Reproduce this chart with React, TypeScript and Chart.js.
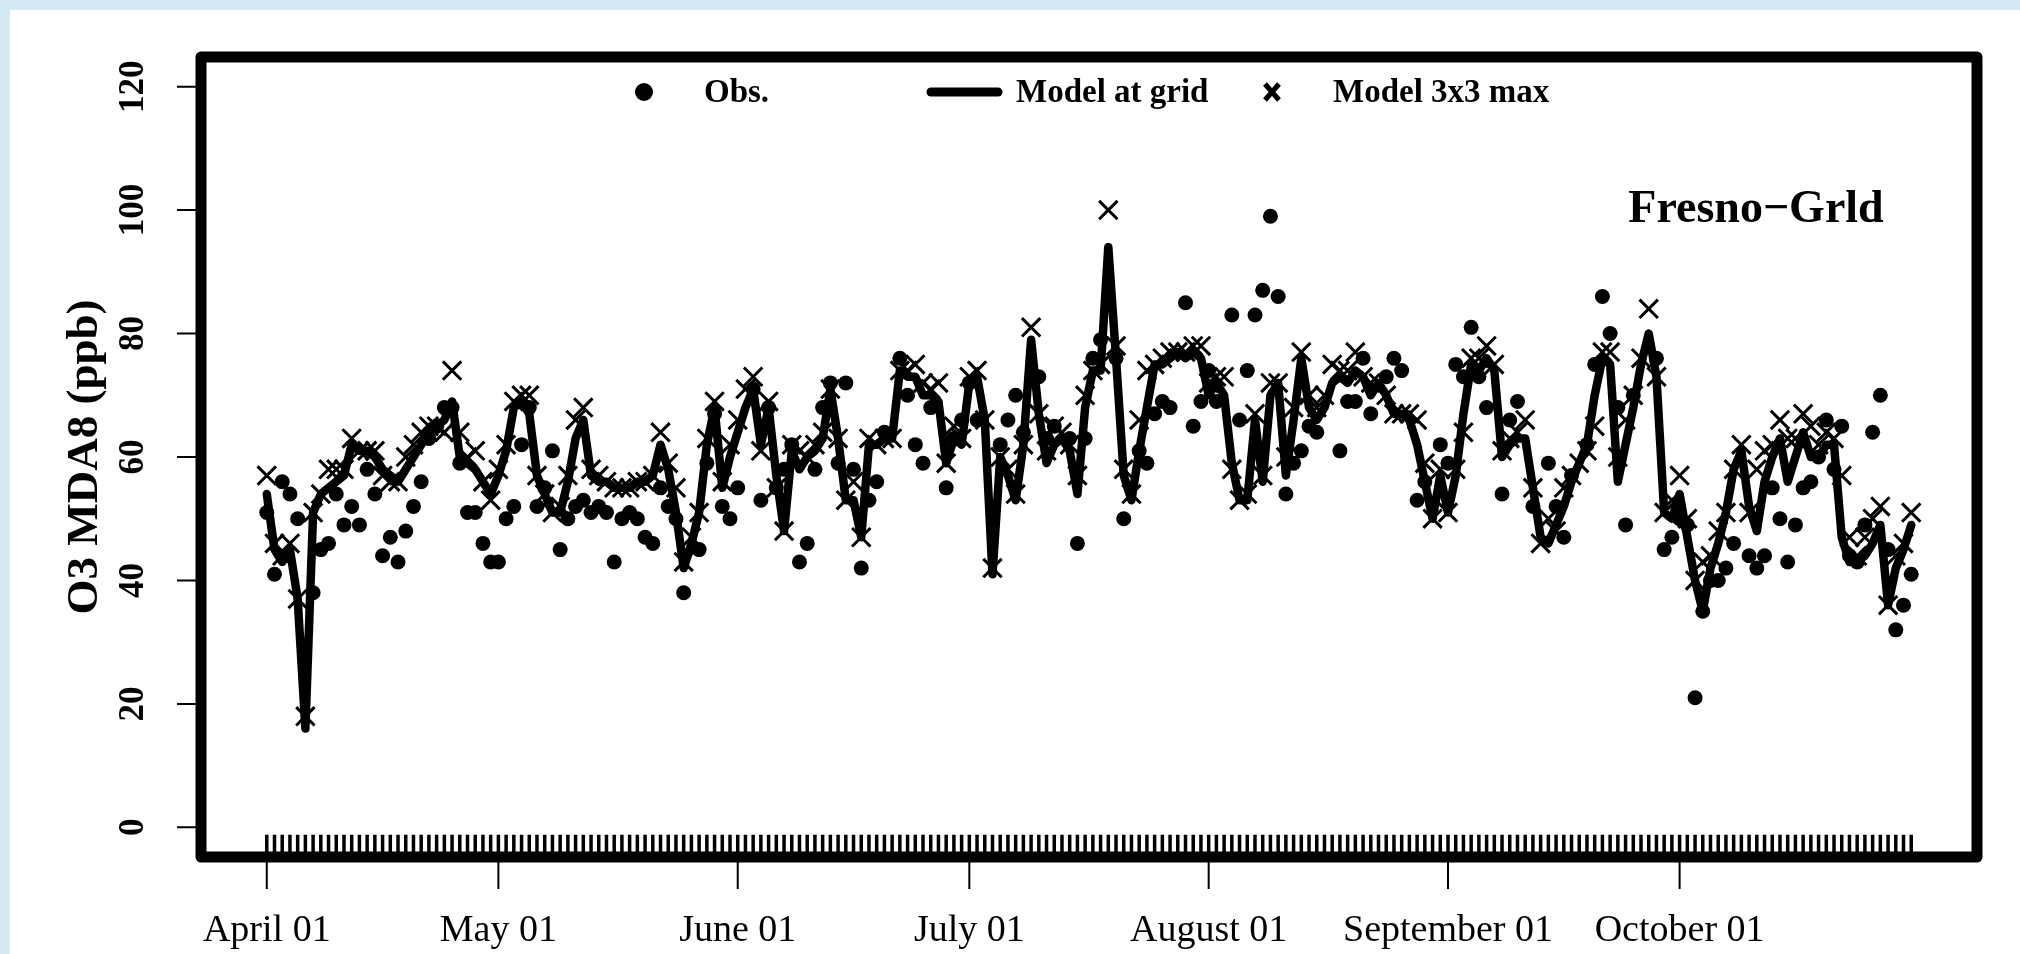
import React, { useEffect, useRef } from "react";
import { Chart, registerables } from "chart.js";

Chart.register(...registerables);

// ---- data (day index 0 = April 01) ----
const monthTickDays = [0, 30, 61, 91, 122, 153, 183];
const monthTickLabels = ["April 01", "May 01", "June 01", "July 01", "August 01", "September 01", "October 01"];
const yTickValues = [0, 20, 40, 60, 80, 100, 120];

const modelAtGrid = [
  54, 45, 43, 45, 37, 16, 51, 54, 55, 56, 57, 62, 61, 61, 60, 58, 57, 56, 58, 60,
  62, 64, 65, 66, 69, 60, 59, 58, 56, 54, 57, 61, 68, 69, 67, 57, 54, 51, 51, 56,
  63, 66, 57, 56, 56, 55, 55, 55, 56, 56, 57, 62, 58, 51, 42, 46, 51, 62, 68, 55,
  60, 64, 68, 71, 62, 68, 57, 48, 61, 58, 60, 61, 63, 71, 63, 53, 53, 47, 62, 62,
  63, 63, 74, 73, 73, 70, 70, 69, 59, 63, 62, 72, 73, 66, 41, 60, 57, 53, 62, 79,
  67, 59, 62, 63, 61, 54, 68, 74, 74, 94, 76, 57, 53, 61, 68, 75, 75, 76, 77, 76,
  77, 76, 70, 72, 70, 59, 53, 53, 66, 56, 70, 72, 57, 66, 76, 68, 66, 68, 72, 73,
  72, 74, 73, 70, 72, 70, 67, 67, 66, 62, 56, 50, 57, 51, 57, 67, 75, 74, 76, 74,
  60, 62, 63, 63, 55, 47, 46, 49, 52, 56, 59, 62, 70, 76, 75, 56, 62, 68, 75, 80,
  73, 51, 50, 54, 47, 40, 35, 42, 46, 51, 58, 61, 52, 48, 56, 60, 63, 56, 60, 64,
  60, 60, 62, 62, 47, 43, 43, 44, 46, 49, 36, 42, 45, 49,
];

const model3x3Max = [
  57, 46, 44, 46, 37, 18, 51, 54, 58, 58, 58, 63, 61, 61, 61, 57, 56, 56, 60, 62,
  64, 65, 65, 64, 74, 64, 60, 61, 56, 53, 58, 62, 69, 70, 70, 57, 54, 51, 52, 57,
  66, 68, 58, 57, 56, 55, 55, 55, 56, 56, 57, 64, 59, 55, 43, 47, 51, 63, 69, 56,
  62, 66, 71, 73, 61, 69, 55, 48, 62, 61, 60, 62, 64, 71, 63, 53, 56, 47, 63, 62,
  63, 63, 74, 74, 75, 72, 71, 72, 59, 65, 63, 73, 74, 66, 42, 60, 58, 54, 62, 81,
  67, 61, 65, 64, 62, 57, 70, 74, 75, 100, 78, 58, 54, 66, 74, 75, 76, 77, 77, 77,
  78, 78, 72, 73, 73, 58, 53, 54, 67, 57, 72, 72, 60, 68, 77, 70, 68, 70, 75, 74,
  74, 77, 73, 72, 72, 70, 67, 67, 67, 66, 59, 50, 58, 51, 58, 64, 76, 76, 78, 75,
  61, 63, 64, 66, 55, 46, 50, 48, 55, 57, 59, 61, 65, 77, 77, 60, 66, 70, 76, 84,
  73, 51, 53, 57, 50, 40, 43, 44, 48, 51, 58, 62, 51, 58, 61, 62, 66, 63, 63, 67,
  65, 62, 64, 63, 57, 47, 44, 47, 50, 52, 36, 44, 46, 51,
];

const obs = [
  51, 41, 56, 54, 50, null, 38, 45, 46, 54, 49, 52, 49, 58, 54, 44, 47, 43, 48, 52,
  56, 63, 65, 68, 68, 59, 51, 51, 46, 43, 43, 50, 52, 62, 68, 52, 55, 61, 45, 50,
  52, 53, 51, 52, 51, 43, 50, 51, 50, 47, 46, 55, 52, 50, 38, null, 45, 59, 67, 52,
  50, 55, null, 71, 53, 68, 55, 58, 62, 43, 46, 58, 68, 72, 59, 72, 58, 42, 53, 56,
  64, null, 76, 70, 62, 59, 68, null, 55, 63, 66, 72, 66, null, null, 62, 66, 70, 64, null,
  73, 63, 65, null, 63, 46, 63, 76, 79, null, 76, 50, null, 61, 59, 67, 69, 68, null, 85,
  65, 69, 74, 69, null, 83, 66, 74, 83, 87, 99, 86, 54, 59, 61, 65, 64, null, null, 61,
  69, 69, 76, 67, null, 73, 76, 74, null, 53, 56, null, 62, 59, 75, 73, 81, 73, 68, null,
  54, 66, 69, null, 52, null, 59, 52, 47, 57, null, 62, 75, 86, 80, 68, 49, 70, null, null,
  76, 45, 47, 50, 49, 21, 35, 40, 40, 42, 46, null, 44, 42, 44, 55, 50, 43, 49, 55,
  56, 60, 66, 58, 65, 44, 43, 49, 64, 70, 45, 32, 36, 41,
];

const yAxisTitle = "O3 MDA8 (ppb)";
const siteTitle = "Fresno\u2212Grld";
const legendLabels = ["Obs.", "Model at grid", "Model 3x3 max"];

const SERIF = '"Liberation Serif", "Times New Roman", serif';

const rStylePlugin = {
  id: "rStyle",
  beforeDraw(chart: any) {
    const { ctx, width, height } = chart;
    ctx.save();
    ctx.fillStyle = "#ffffff";
    ctx.fillRect(0, 0, width, height);
    ctx.fillStyle = "#d4eaf3";
    ctx.fillRect(0, 0, 10, height);
    ctx.fillRect(0, 0, width, 10);
    ctx.restore();
  },
  afterDraw(chart: any) {
    const { ctx, chartArea } = chart;
    const xs = chart.scales.x;
    const ys = chart.scales.y;
    ctx.save();
    ctx.strokeStyle = "#000";
    ctx.fillStyle = "#000";

    // daily minor ticks along the bottom, inside the box
    ctx.lineWidth = 3.5;
    ctx.lineCap = "butt";
    const tickTop = ys.getPixelForValue(-1.2);
    ctx.beginPath();
    for (let i = 0; i < modelAtGrid.length; i++) {
      const px = xs.getPixelForValue(i);
      ctx.moveTo(px, tickTop);
      ctx.lineTo(px, chartArea.bottom);
    }
    ctx.stroke();

    // box
    ctx.lineWidth = 11;
    ctx.lineJoin = "round";
    ctx.strokeRect(chartArea.left, chartArea.top, chartArea.right - chartArea.left, chartArea.bottom - chartArea.top);

    // x month ticks + labels
    ctx.lineWidth = 2;
    ctx.beginPath();
    monthTickDays.forEach((d) => {
      const px = xs.getPixelForValue(d);
      ctx.moveTo(px, chartArea.bottom + 5);
      ctx.lineTo(px, chartArea.bottom + 32);
    });
    ctx.stroke();
    ctx.font = `38px ${SERIF}`;
    ctx.textAlign = "center";
    ctx.textBaseline = "alphabetic";
    monthTickDays.forEach((d, i) => {
      ctx.fillText(monthTickLabels[i], xs.getPixelForValue(d), chartArea.bottom + 84);
    });

    // y ticks + rotated labels
    ctx.beginPath();
    yTickValues.forEach((v) => {
      const py = ys.getPixelForValue(v);
      ctx.moveTo(chartArea.left - 5, py);
      ctx.lineTo(chartArea.left - 24, py);
    });
    ctx.stroke();
    ctx.font = `bold 35px ${SERIF}`;
    yTickValues.forEach((v) => {
      const py = ys.getPixelForValue(v);
      ctx.save();
      ctx.translate(chartArea.left - 58, py);
      ctx.rotate(-Math.PI / 2);
      ctx.fillText(String(v), 0, 0);
      ctx.restore();
    });

    // y axis title
    ctx.save();
    ctx.font = `bold 45px ${SERIF}`;
    ctx.translate(chartArea.left - 104, (chartArea.top + chartArea.bottom) / 2);
    ctx.rotate(-Math.PI / 2);
    ctx.fillText(yAxisTitle, 0, 0);
    ctx.restore();

    // legend
    const ly = 92;
    ctx.beginPath();
    ctx.arc(644, ly, 9, 0, Math.PI * 2);
    ctx.fill();
    ctx.lineWidth = 9;
    ctx.lineCap = "round";
    ctx.beginPath();
    ctx.moveTo(931, ly);
    ctx.lineTo(998, ly);
    ctx.stroke();
    ctx.lineWidth = 5;
    ctx.lineCap = "butt";
    ctx.beginPath();
    ctx.moveTo(1272 - 7, ly - 8);
    ctx.lineTo(1272 + 7, ly + 8);
    ctx.moveTo(1272 + 7, ly - 8);
    ctx.lineTo(1272 - 7, ly + 8);
    ctx.stroke();
    ctx.font = `bold 33px ${SERIF}`;
    ctx.textAlign = "left";
    ctx.fillText(legendLabels[0], 704, 102);
    ctx.fillText(legendLabels[1], 1016, 102);
    ctx.fillText(legendLabels[2], 1333, 102);

    // site title
    ctx.font = `bold 46px ${SERIF}`;
    ctx.textAlign = "center";
    ctx.fillText(siteTitle, 1756, 222);

    ctx.restore();
  },
};

export default function App() {
  const ref = useRef<HTMLCanvasElement | null>(null);
  useEffect(() => {
    document.body.style.margin = "0";
    const canvas = ref.current!;
    const chart = new Chart(canvas, {
      type: "line",
      data: {
        datasets: [
          {
            label: legendLabels[2],
            data: model3x3Max.map((v, i) => ({ x: i, y: v })),
            showLine: false,
            pointStyle: "crossRot",
            pointRadius: 13,
            pointBorderWidth: 3,
            pointBorderColor: "#000",
            borderColor: "#000",
            order: 0,
          },
          {
            label: legendLabels[0],
            data: obs.map((v, i) => ({ x: i, y: v })),
            showLine: false,
            pointStyle: "circle",
            pointRadius: 7.5,
            pointBackgroundColor: "#000",
            pointBorderColor: "#000",
            pointBorderWidth: 0,
            order: 1,
          },
          {
            label: legendLabels[1],
            data: modelAtGrid.map((v, i) => ({ x: i, y: v })),
            borderColor: "#000",
            borderWidth: 8.5,
            pointRadius: 0,
            tension: 0,
            borderJoinStyle: "round",
            borderCapStyle: "round",
            fill: false,
            order: 2,
          },
        ],
      },
      options: {
        responsive: false,
        animation: false,
        devicePixelRatio: 1,
        layout: { padding: { left: 201, right: 43, top: 57, bottom: 97 } },
        plugins: { legend: { display: false }, tooltip: { enabled: false }, title: { display: false } },
        scales: {
          x: { type: "linear", min: -8.52, max: 221.52, display: false },
          y: { type: "linear", min: -4.8, max: 124.8, display: false },
        },
      },
      plugins: [rStylePlugin],
    } as any);
    return () => chart.destroy();
  }, []);
  return <canvas ref={ref} width={2020} height={954} style={{ display: "block" }} />;
}
